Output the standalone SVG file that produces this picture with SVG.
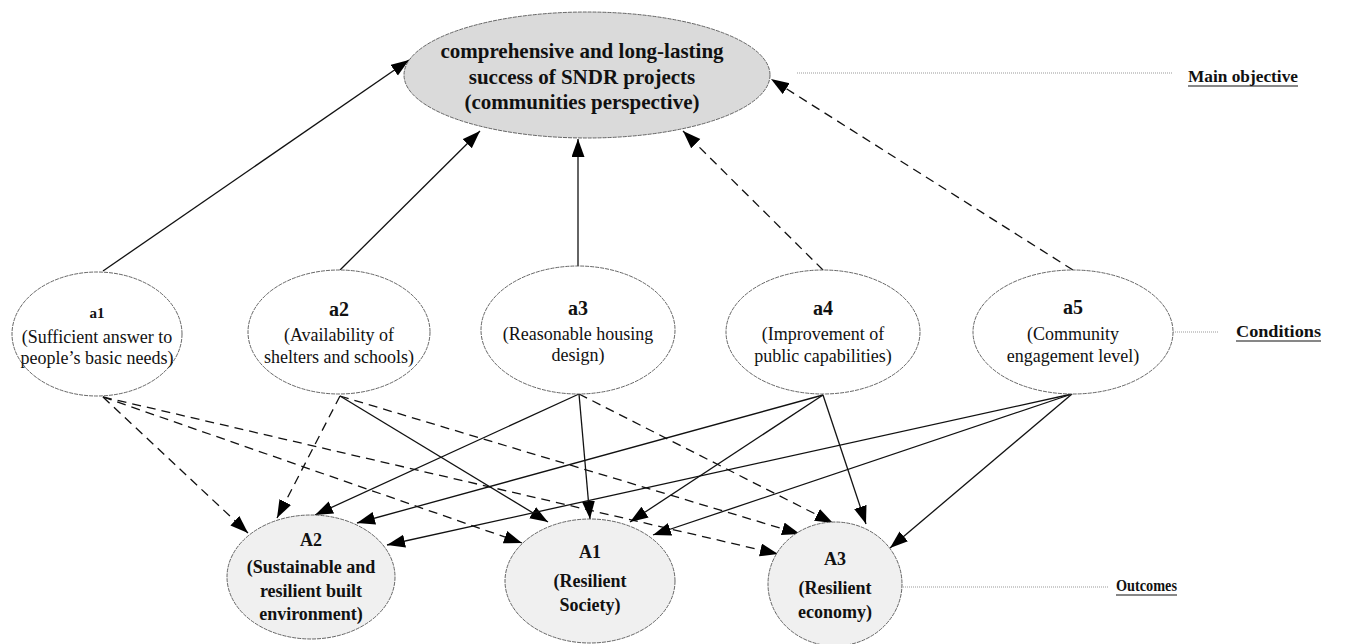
<svg xmlns="http://www.w3.org/2000/svg" width="1365" height="644" viewBox="0 0 1365 644">
<defs>
<marker id="ah" markerUnits="userSpaceOnUse" markerWidth="20" markerHeight="14" refX="18" refY="6.5" orient="auto">
<path d="M0,0 L18,6.5 L0,13 z" fill="#000"/>
</marker>
<style>
.node{stroke:#555;stroke-width:0.9;stroke-dasharray:4 1}
.main{fill:#dadada}
.cond{fill:#fff}
.out{fill:#f0f0f0}
.t{font-family:"Liberation Serif","Times New Roman",serif;text-anchor:middle;fill:#111}
.b{font-weight:bold}
.e{fill:none;stroke:#111;stroke-width:1.3;marker-end:url(#ah)}
.d{stroke-dasharray:9 6}
.dot{stroke:#999;stroke-width:1;stroke-dasharray:1 1}
.lab{font-family:"Liberation Serif","Times New Roman",serif;font-weight:bold;font-size:17px;fill:#111}
</style>
</defs>
<rect width="1365" height="644" fill="#fff"/>

<g id="connectors">
<line class="e" x1="103" y1="271" x2="409" y2="60"/>
<line class="e" x1="340" y1="270" x2="480" y2="131"/>
<line class="e" x1="578" y1="267" x2="578" y2="139"/>
<line class="e d" x1="823" y1="270" x2="683" y2="131"/>
<line class="e d" x1="1073" y1="270" x2="771" y2="79"/>

<line class="e d" x1="103" y1="397" x2="248" y2="533"/>
<line class="e d" x1="103" y1="397" x2="522" y2="543"/>
<line class="e d" x1="103" y1="397" x2="778" y2="554"/>
<line class="e d" x1="340" y1="396" x2="277" y2="518"/>
<line class="e" x1="340" y1="396" x2="548" y2="522"/>
<line class="e d" x1="340" y1="396" x2="800" y2="534"/>
<line class="e" x1="579" y1="394" x2="315" y2="515"/>
<line class="e" x1="579" y1="394" x2="590" y2="519"/>
<line class="e d" x1="579" y1="394" x2="833" y2="523"/>
<line class="e" x1="823" y1="395" x2="357" y2="523"/>
<line class="e" x1="823" y1="395" x2="630" y2="522"/>
<line class="e" x1="823" y1="395" x2="866" y2="524"/>
<line class="e" x1="1072" y1="394" x2="387" y2="545"/>
<line class="e" x1="1072" y1="394" x2="653" y2="535"/>
<line class="e" x1="1072" y1="394" x2="890" y2="548"/>

<line class="dot" x1="797" y1="73" x2="1172" y2="73"/>
<line class="dot" x1="1173" y1="332" x2="1219" y2="332"/>
<line class="dot" x1="901" y1="587" x2="1108" y2="587"/>
</g>

<g id="main">
<ellipse class="node main" cx="587" cy="75" rx="183" ry="63"/>
<text class="t b" font-size="21" x="582" y="58">comprehensive and long-lasting</text>
<text class="t b" font-size="21" x="582" y="84">success of SNDR projects</text>
<text class="t b" font-size="21" x="582" y="109">(communities perspective)</text>
</g>

<g id="a1">
<ellipse class="node cond" cx="97" cy="334" rx="85" ry="62"/>
<text class="t b" font-size="15" x="97" y="318">a1</text>
<text class="t" font-size="18" x="97" y="343">(Sufficient  answer to</text>
<text class="t" font-size="18" x="97" y="364">people’s basic needs)</text>
</g>
<g id="a2">
<ellipse class="node cond" cx="339" cy="332" rx="91" ry="62"/>
<text class="t b" font-size="20" x="339" y="316">a2</text>
<text class="t" font-size="18" x="339" y="341">(Availability of</text>
<text class="t" font-size="18" x="339" y="363">shelters and schools)</text>
</g>
<g id="a3">
<ellipse class="node cond" cx="578" cy="330" rx="97" ry="64"/>
<text class="t b" font-size="20" x="578" y="315">a3</text>
<text class="t" font-size="18" x="578" y="340">(Reasonable housing</text>
<text class="t" font-size="18" x="578" y="361">design)</text>
</g>
<g id="a4">
<ellipse class="node cond" cx="823" cy="332" rx="97" ry="62"/>
<text class="t b" font-size="20" x="823" y="315">a4</text>
<text class="t" font-size="18" x="823" y="340">(Improvement of</text>
<text class="t" font-size="18" x="823" y="362">public capabilities)</text>
</g>
<g id="a5">
<ellipse class="node cond" cx="1073" cy="332" rx="100" ry="62"/>
<text class="t b" font-size="20" x="1073" y="314">a5</text>
<text class="t" font-size="18" x="1073" y="340">(Community</text>
<text class="t" font-size="18" x="1073" y="362">engagement level)</text>
</g>

<g id="A2">
<ellipse class="node out" cx="311" cy="577" rx="84" ry="62"/>
<text class="t b" font-size="18" x="311" y="546">A2</text>
<text class="t b" font-size="18" x="311" y="573">(Sustainable and</text>
<text class="t b" font-size="18" x="311" y="597">resilient built</text>
<text class="t b" font-size="18" x="311" y="620">environment)</text>
</g>
<g id="A1">
<ellipse class="node out" cx="590" cy="581" rx="85" ry="62"/>
<text class="t b" font-size="18" x="590" y="558">A1</text>
<text class="t b" font-size="18" x="590" y="587">(Resilient</text>
<text class="t b" font-size="18" x="590" y="611">Society)</text>
</g>
<g id="A3">
<ellipse class="node out" cx="835" cy="584" rx="67" ry="62"/>
<text class="t b" font-size="18" x="835" y="565">A3</text>
<text class="t b" font-size="18" x="835" y="594">(Resilient</text>
<text class="t b" font-size="18" x="835" y="618">economy)</text>
</g>

<g id="labels">
<text class="lab" x="1188" y="82" textLength="110" lengthAdjust="spacingAndGlyphs">Main objective</text>
<line x1="1188" y1="86" x2="1298" y2="86" stroke="#111" stroke-width="1.2"/>
<text class="lab" x="1236" y="337" textLength="85" lengthAdjust="spacingAndGlyphs">Conditions</text>
<line x1="1236" y1="341" x2="1321" y2="341" stroke="#111" stroke-width="1.2"/>
<text class="lab" x="1116" y="591" textLength="61" lengthAdjust="spacingAndGlyphs">Outcomes</text>
<line x1="1116" y1="595" x2="1177" y2="595" stroke="#111" stroke-width="1.2"/>
</g>
</svg>
